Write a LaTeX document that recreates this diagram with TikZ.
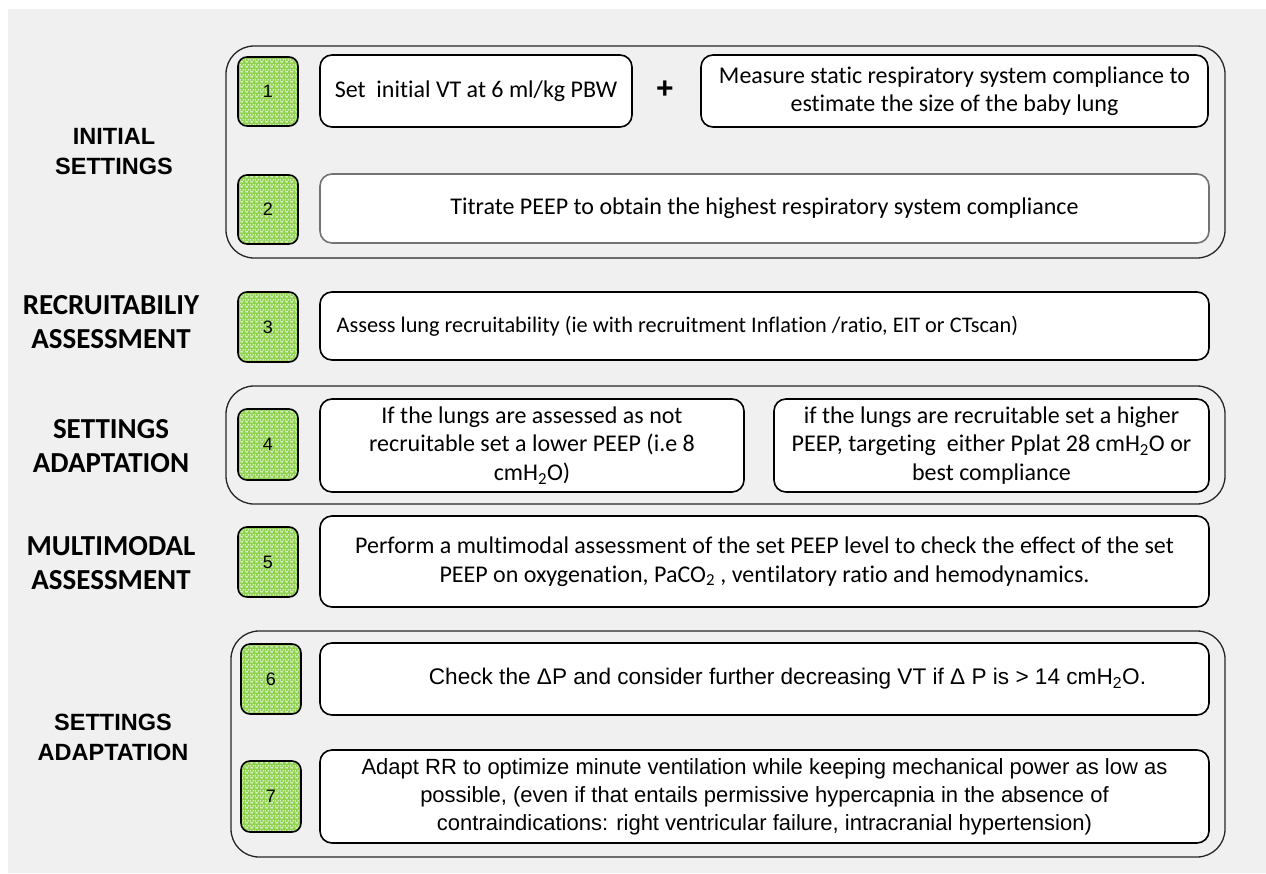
\documentclass[tikz,border=0pt]{standalone}
\usepackage{fontspec}
\setmainfont{Carlito}[Ligatures=NoCommon]
\newfontfamily\arialf{Liberation Sans}
\usetikzlibrary{patterns.meta}
\definecolor{bg}{HTML}{F0F0F0}
\definecolor{lgreen}{HTML}{8FD14F}
\tikzdeclarepattern{
  name=bricks, type=uncolored,
  bottom left={(0pt,0pt)}, top right={(5pt,5pt)}, tile size={(5pt,5pt)},
  code={
    \fill (0.5pt,0.7pt) rectangle (3.5pt,1.8pt);
    \fill (3pt,3.2pt) rectangle (5pt,4.3pt);
    \fill (0pt,3.2pt) rectangle (1pt,4.3pt);
  }
}
\tikzset{
  outer/.style={draw=black!85, line width=1.3pt, rounded corners=28pt, minimum width=#1},
  inbox/.style={draw=black, line width=1.6pt, rounded corners=12pt, fill=white, align=center,
     font=\fontsize{24}{28.5}\selectfont, inner sep=0pt},
  arialbox/.style={inbox, font=\arialf\fontsize{22}{28}\selectfont},
  numbox/.style={draw=black, line width=1.6pt, rounded corners=9pt, preaction={fill=lgreen},
     pattern=bricks, pattern color=white, minimum width=60pt, minimum height=#1,
     font=\arialf\fontsize{18}{20}\selectfont, inner sep=0pt},
  lab/.style={align=center, font=\arialf\bfseries\fontsize{23.5}{30}\selectfont},
  labc/.style={align=center, font=\bfseries\fontsize{29}{34}\selectfont},
}
\begin{document}
\begin{tikzpicture}[x=1pt,y=-1pt]
\useasboundingbox (0,0) rectangle (1266,873);
\fill[white] (0,0) rectangle (1266,873);
\fill[bg] (8,9) rectangle (1266,873);

% group 1
\node[outer=999pt, minimum height=212pt] (g1) at (725.5,152) {};
\node[numbox=69pt] (n1) at (268,91.5) {1};
\node[inbox, minimum width=312pt, minimum height=72pt] (b1a) at (476,91) {Set\ \ initial VT at 6 ml/kg PBW};
\node[font=\arialf\bfseries\fontsize{30}{30}\selectfont] (plus) at (665,90) {+};
\node[inbox, minimum width=507pt, minimum height=72pt] (b1b) at (954.5,91) {Measure static respiratory system compliance to\\estimate the size of the baby lung};
\node[numbox=69pt] (n2) at (268,209.5) {2};
\node[inbox, draw=black!55, minimum width=889pt, minimum height=69pt] (b2) at (764.5,208.5) {Titrate PEEP to obtain the highest respiratory system compliance};
\node[lab] (L1) at (114,152) {INITIAL\\SETTINGS};

% step 3
\node[numbox=70pt] (n3) at (268,327) {3};
\node[inbox, minimum width=889pt, minimum height=68pt] (b3) at (764.5,326) {};
\node[anchor=west, font=\fontsize{22.3}{27}\selectfont] (t3) at ([xshift=14pt]b3.west) {Assess lung recruitability (ie with recruitment Inflation /ratio, EIT or CTscan)};
\node[labc] (L2) at (111,322) {RECRUITABILIY\\ASSESSMENT};

% group 2
\node[outer=999pt, minimum height=118pt] (g2) at (725.5,445) {};
\node[numbox=71pt] (n4) at (268,444.5) {4};
\node[inbox, minimum width=424pt, minimum height=93pt] (b4a) at (532,445.5) {If the lungs are assessed as not\\recruitable set a lower PEEP (i.e 8\\cmH\textsubscript{2}O)};
\node[inbox, minimum width=435pt, minimum height=93pt] (b4b) at (991.5,445.5) {if the lungs are recruitable set a higher\\PEEP, targeting\ \ either Pplat 28 cmH\textsubscript{2}O or\\best compliance};
\node[labc] (L3) at (111,446) {SETTINGS\\ADAPTATION};

% step 5
\node[numbox=70pt] (n5) at (268,562) {5};
\node[inbox, minimum width=889pt, minimum height=91pt] (b5) at (764.5,561.5) {Perform a multimodal assessment of the set PEEP level to check the effect of the set\\PEEP on oxygenation, PaCO\textsubscript{2} , ventilatory ratio and hemodynamics.};
\node[labc] (L4) at (111,563) {MULTIMODAL\\ASSESSMENT};

% group 3
\node[outer=994pt, minimum height=226pt] (g3) at (728,744) {};
\node[numbox=70pt] (n6) at (271,679) {6};
\node[arialbox, minimum width=889pt, minimum height=72pt] (b6) at (764.5,679) {};
\node[font=\arialf\fontsize{22.6}{28}\selectfont] (t6) at ([xshift=23pt]b6.center) {Check the ΔP and consider further decreasing VT if Δ P is > 14 cmH\textsubscript{2}O.};
\node[numbox=71pt] (n7) at (271,796.5) {7};
\node[arialbox, minimum width=889pt, minimum height=93pt] (b7) at (764.5,796.5) {Adapt RR to optimize minute ventilation while keeping mechanical power as low as\\possible, (even if that entails permissive hypercapnia in the absence of\\contraindications: right ventricular failure, intracranial hypertension)};
\node[lab] (L5) at (113,737) {SETTINGS\\ADAPTATION};
\end{tikzpicture}
\end{document}
